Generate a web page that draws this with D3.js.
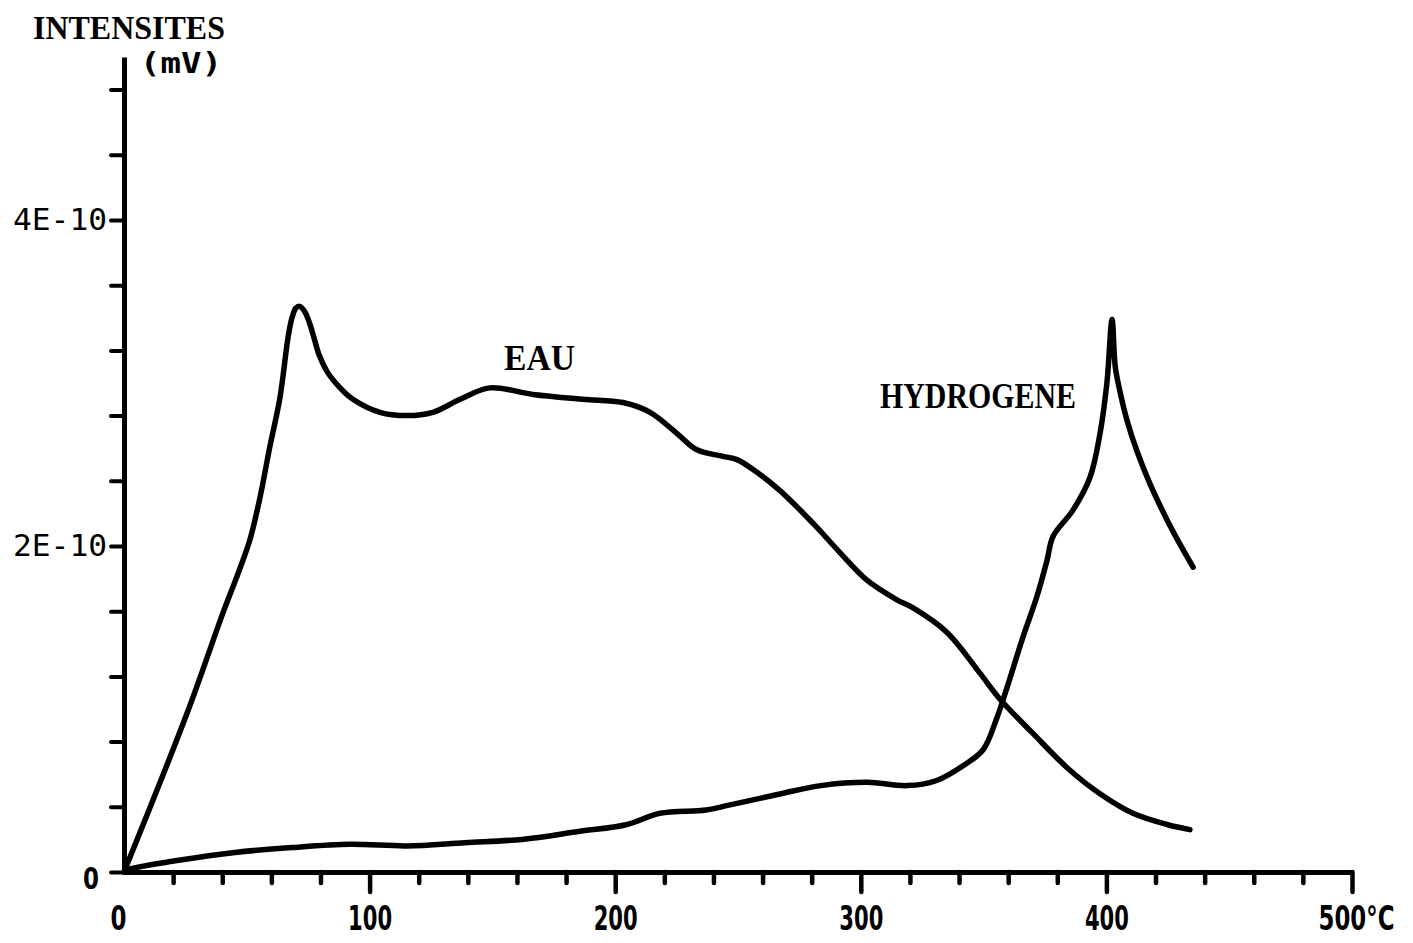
<!DOCTYPE html>
<html>
<head>
<meta charset="utf-8">
<script src="https://cdn.jsdelivr.net/npm/d3@7"></script>
<style>
  html, body { margin: 0; padding: 0; background: #fff; }
  svg { display: block; }
</style>
</head>
<body>
<svg id="chart" width="1413" height="943"></svg>
<script>
// Thermodesorption : intensités (en unités de 1E-10 mV) en fonction de la température (°C)

// Courbe EAU
const eauTemp = [0, 25.7, 40.3, 46.4, 51.3, 55.4, 59.4, 63.5, 66.8, 68.4, 70.0, 71.5, 73.5, 75.5,
  77.5, 79.5, 82.7, 88.0, 93.2, 104.2, 115.2, 125.8, 136.8, 149.0, 166.5, 186.9, 203.2, 214.2,
  225.2, 233.3, 243.9, 249.6, 257.0, 267.1, 280.5, 291.5, 302.5, 314.7, 321.3, 335.1, 348.5,
  356.7, 370.1, 384.0, 397.4, 410.8, 425.0, 434.0];
const eauIntensite = [0, 0.975, 1.59, 1.83, 2.04, 2.30, 2.61, 2.91, 3.28, 3.40, 3.46, 3.47, 3.44, 3.37,
  3.27, 3.17, 3.07, 2.97, 2.90, 2.82, 2.80, 2.82, 2.90, 2.97, 2.93, 2.90, 2.88, 2.82,
  2.69, 2.59, 2.55, 2.53, 2.46, 2.34, 2.14, 1.96, 1.79, 1.67, 1.62, 1.47, 1.22,
  1.06, 0.85, 0.64, 0.48, 0.36, 0.29, 0.26];

// Courbe HYDROGENE
const h2Temp = [0, 2.9, 21.6, 45.2, 68.4, 92.0, 115.2, 138.8, 162.1, 185.7, 204.4, 218.2, 237.0,
  246.3, 267.5, 283.8, 302.5, 318.8, 330.6, 342.4, 349.8, 355.5, 359.5, 366.0, 371.7, 375.8,
  378.3, 386.4, 393.3, 397.4, 400.2, 402.3, 403.6, 405.5, 408.4, 412.5, 417.8, 424.7, 430.0, 435.3];
const h2Intensite = [0, 0.02, 0.07, 0.12, 0.15, 0.17, 0.16, 0.18, 0.20, 0.25, 0.29, 0.36, 0.38,
  0.41, 0.48, 0.53, 0.55, 0.53, 0.56, 0.66, 0.75, 0.95, 1.13, 1.44, 1.69, 1.91,
  2.06, 2.22, 2.42, 2.69, 3.00, 3.39, 3.10, 2.95, 2.77, 2.58, 2.38, 2.16, 2.01, 1.87];

// Graduations
const xTicks = [0, 20, 40, 60, 80, 100, 120, 140, 160, 180, 200, 220, 240, 260, 280, 300,
  320, 340, 360, 380, 400, 420, 440, 460, 480, 500];
const xMajorTicks = [0, 100, 200, 300, 400, 500];
const xTickLabels = ["0", "100", "200", "300", "400", "500°C"];
const yTicks = [0, 0.4, 0.8, 1.2, 1.6, 2.0, 2.4, 2.8, 3.2, 3.6, 4.0, 4.4, 4.8];
const yLabelTicks = [0, 2, 4];
const yTickLabels = ["0", "2E-10", "4E-10"];

const svg = d3.select("#chart");
svg.append("rect").attr("width", 1413).attr("height", 943).attr("fill", "#fff");

const x = d3.scaleLinear().domain([0, 500]).range([124, 1352]);
const y = d3.scaleLinear().domain([0, 5]).range([872, 57]);

const ink = "#000";
const narrow = "'Liberation Sans Narrow', 'DejaVu Sans Condensed', sans-serif";

// Squeeze a text element horizontally to a given width (anchor: start | middle)
function fitWidth(sel, width, anchor) {
  sel.each(function () {
    const t = d3.select(this);
    const natural = this.getComputedTextLength();
    if (!natural) return;
    const k = width / natural;
    const x0 = +t.attr("x") || 0;
    const y0 = +t.attr("y") || 0;
    t.attr("text-anchor", anchor)
      .attr("transform", `translate(${x0},${y0}) scale(${k},1)`)
      .attr("x", 0).attr("y", 0);
  });
}

// Axe des intensités
const yAxis = d3.axisLeft(y)
  .tickValues(yTicks)
  .tickSize(13)
  .tickSizeOuter(0)
  .tickFormat(d => {
    const i = yLabelTicks.indexOf(d);
    return i >= 0 && d !== 0 ? yTickLabels[i] : "";
  });
const gy = svg.append("g").attr("transform", `translate(${x(0)},0)`).call(yAxis);
gy.select(".domain").attr("stroke", ink).attr("stroke-width", 5);
gy.selectAll(".tick line").attr("stroke", ink).attr("stroke-width", 4).attr("stroke-linecap", "round");
gy.selectAll(".tick text")
  .attr("x", -17)
  .attr("fill", ink)
  .style("font-family", "'DejaVu Sans Mono', monospace")
  .style("font-size", "30px")
  .attr("textLength", 94)
  .attr("lengthAdjust", "spacingAndGlyphs");

// Zéro de l'axe des intensités
svg.append("text")
  .attr("x", 91).attr("y", 889)
  .attr("fill", ink)
  .style("font-family", narrow)
  .style("font-weight", "bold")
  .style("font-size", "30px")
  .text(yTickLabels[0])
  .call(fitWidth, 16, "middle");

// Axe des températures
const xAxis = d3.axisBottom(x)
  .tickValues(xTicks)
  .tickSizeOuter(0)
  .tickFormat(d => {
    const i = xMajorTicks.indexOf(d);
    return i >= 0 ? xTickLabels[i] : "";
  });
const gx = svg.append("g").attr("transform", `translate(0,${y(0)})`).call(xAxis);
gx.select(".domain").attr("stroke", ink).attr("stroke-width", 5);
gx.selectAll(".tick line")
  .attr("stroke", ink).attr("stroke-width", 4.5).attr("stroke-linecap", "round")
  .attr("y2", d => (d % 100 === 0 ? 20 : 11))
  .style("display", d => (d === 0 ? "none" : null));
gx.selectAll(".tick text")
  .attr("y", 58)
  .attr("dy", 0)
  .attr("fill", ink)
  .style("font-family", narrow)
  .style("font-weight", "bold")
  .style("font-size", "33px")
  .attr("x", d => (d === 500 ? -34 : d === 0 ? -6 : 0))
  .each(function (d) {
    const w = d === 500 ? 76 : d === 0 ? 16 : 44;
    d3.select(this).call(fitWidth, w, d === 500 ? "start" : "middle");
  });

// Courbes
const line = d3.line()
  .x(d => x(d[0]))
  .y(d => y(d[1]))
  .curve(d3.curveCatmullRom.alpha(0.5));

const eau = eauTemp.map((t, i) => [t, eauIntensite[i]]);
const h2 = h2Temp.map((t, i) => [t, h2Intensite[i]]);

svg.append("path").datum(eau)
  .attr("d", line)
  .attr("fill", "none").attr("stroke", ink)
  .attr("stroke-width", 5.5).attr("stroke-linejoin", "round").attr("stroke-linecap", "round");

svg.append("path").datum(h2)
  .attr("d", line)
  .attr("fill", "none").attr("stroke", ink)
  .attr("stroke-width", 5.5).attr("stroke-linejoin", "round").attr("stroke-linecap", "round");

// Titres et étiquettes
const serif = "'Liberation Serif', 'Times New Roman', serif";

svg.append("text")
  .attr("x", 33).attr("y", 39)
  .attr("fill", ink)
  .style("font-family", serif).style("font-weight", "bold").style("font-size", "34px")
  .text("INTENSITES")
  .call(fitWidth, 192, "start");

svg.append("text")
  .attr("x", 140).attr("y", 73)
  .attr("fill", ink)
  .style("font-family", "'DejaVu Sans Mono', monospace").style("font-weight", "bold").style("font-size", "28px")
  .text("(mV)")
  .call(fitWidth, 82, "start");

svg.append("text")
  .attr("x", 504).attr("y", 370)
  .attr("fill", ink)
  .style("font-family", serif).style("font-weight", "bold").style("font-size", "35px")
  .text("EAU")
  .call(fitWidth, 71, "start");

svg.append("text")
  .attr("x", 880).attr("y", 408)
  .attr("fill", ink)
  .style("font-family", serif).style("font-weight", "bold").style("font-size", "35px")
  .text("HYDROGENE")
  .call(fitWidth, 196, "start");
</script>
</body>
</html>
